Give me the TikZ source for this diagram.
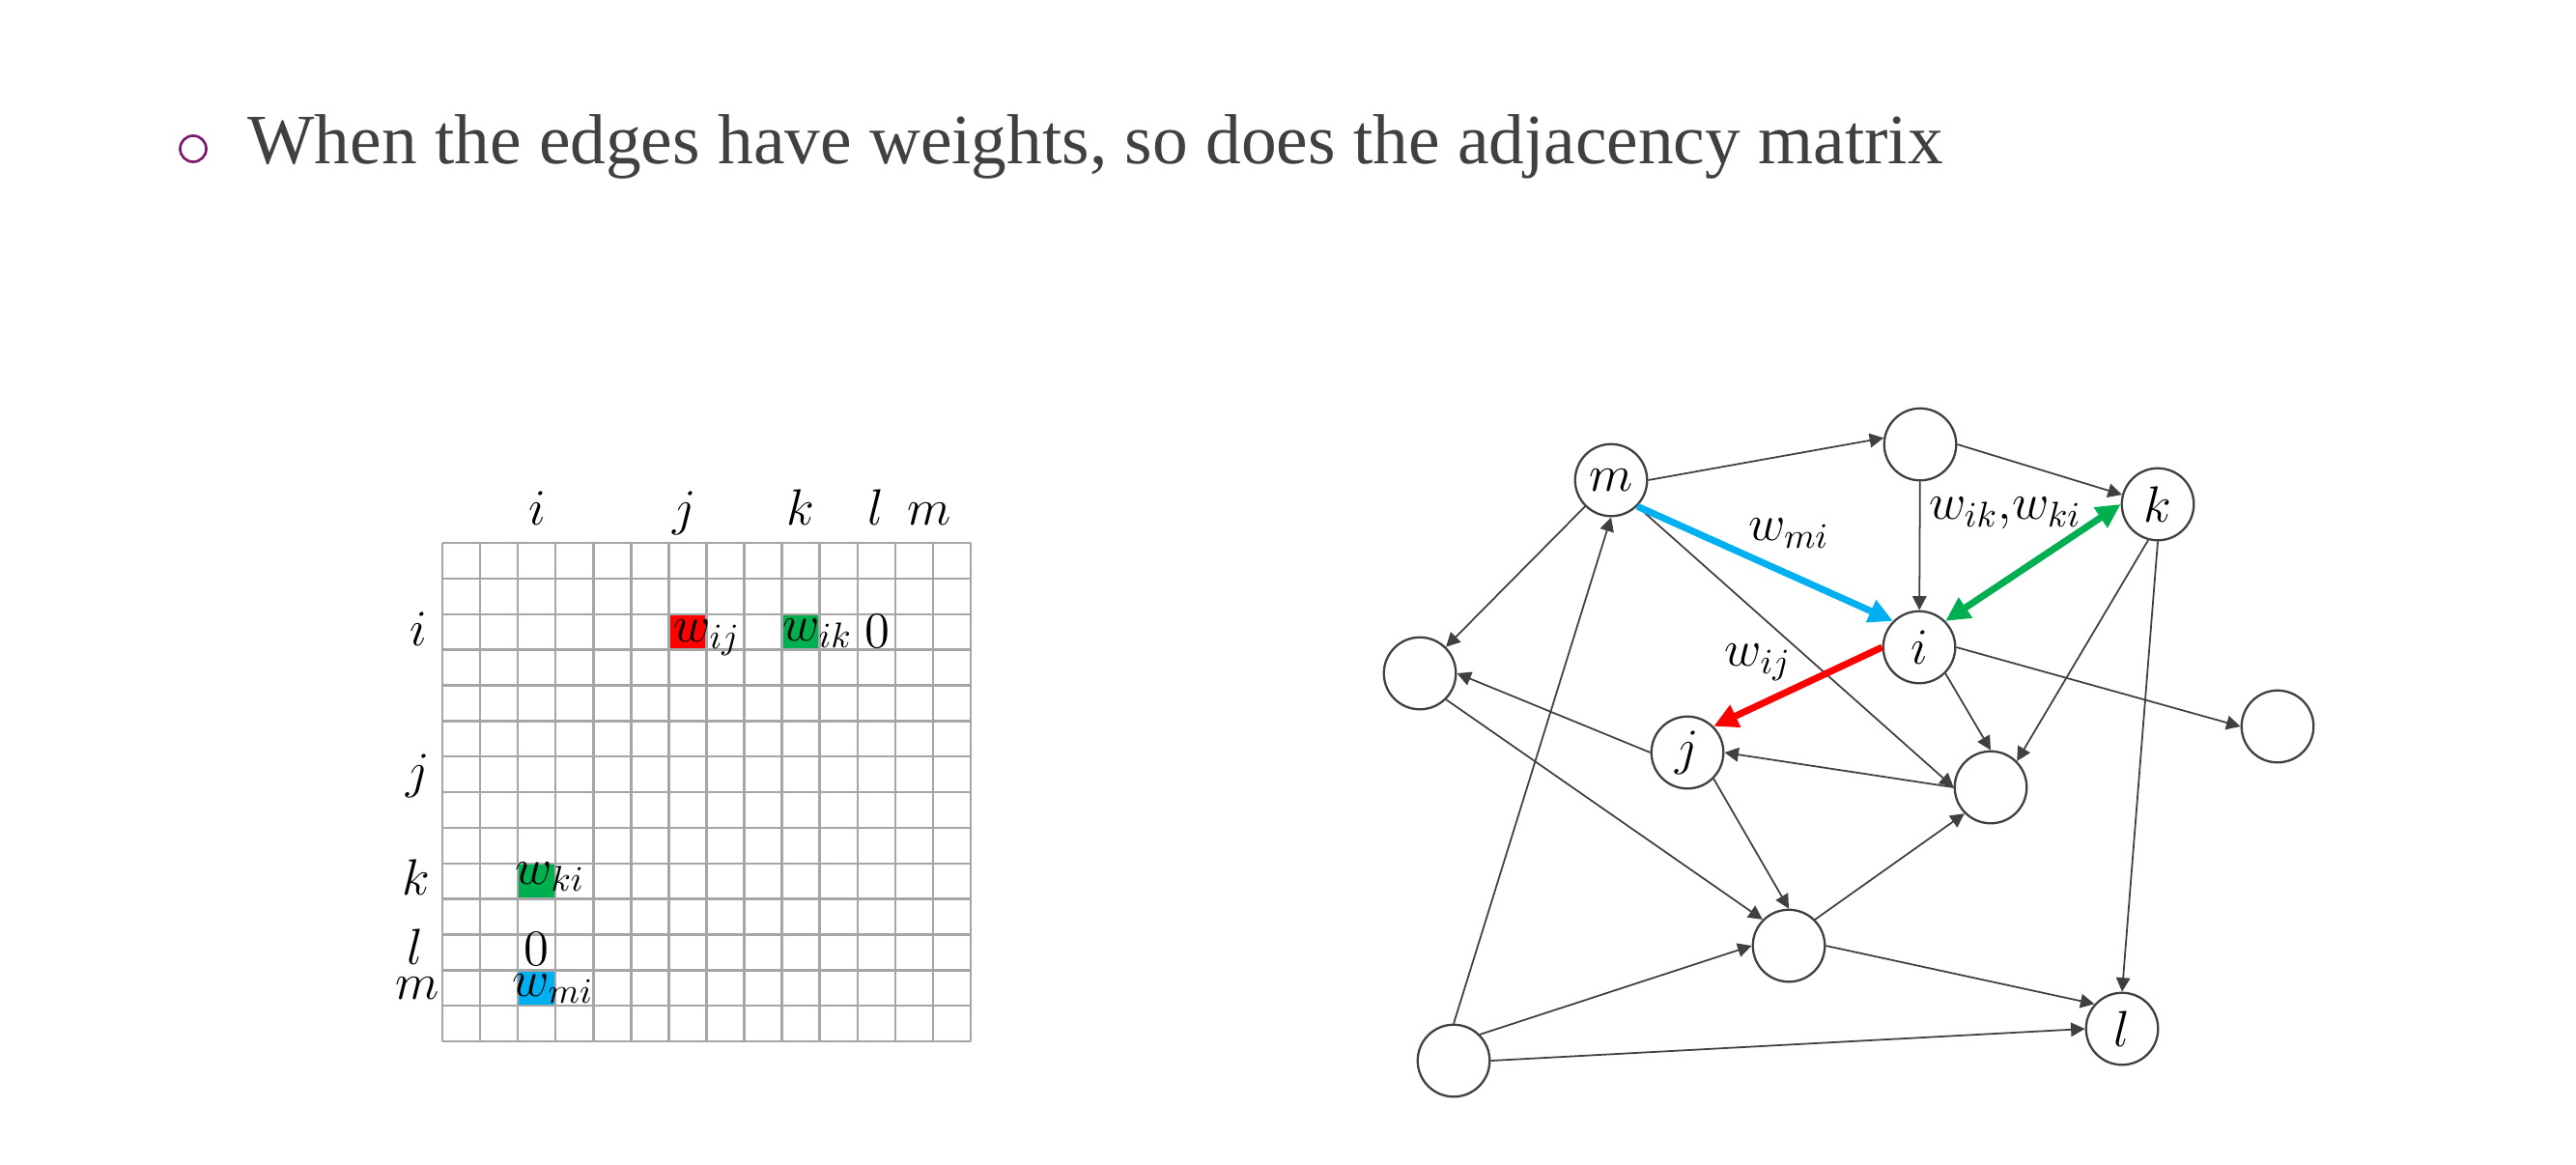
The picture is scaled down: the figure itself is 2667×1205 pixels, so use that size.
\RequirePackage{fix-cm}
\documentclass[tikz,border=0pt]{standalone}
\usepackage{fontspec}
\newfontfamily\titlefont{Liberation Serif}
\usetikzlibrary{arrows.meta}
\definecolor{edgegray}{HTML}{404040}
\definecolor{titlegray}{HTML}{404040}
\definecolor{gridgray}{HTML}{A6A6A6}
\definecolor{wred}{HTML}{FF0000}
\definecolor{wgreen}{HTML}{00B050}
\definecolor{wblue}{HTML}{00B0F0}
\definecolor{bulletpurple}{HTML}{7A186E}
\tikzset{
  vtx/.style={circle, draw=edgegray, line width=0.65pt, fill=white, minimum size=0.745cm, inner sep=0pt, font=\fontsize{15}{18}\selectfont},
  edg/.style={draw=edgegray, line width=0.5pt, -{Triangle[length=0.145cm,width=0.145cm]}},
  hot/.style={line width=2pt, -{Triangle[length=0.25cm,width=0.24cm]}},
  lbl/.style={font=\fontsize{15}{18}\selectfont, inner sep=0pt},
  gridline/.style={draw=gridgray, line width=0.7pt},
  celltxt/.style={font=\fontsize{15}{18}\selectfont, inner sep=0pt, anchor=base west},
  axlbl/.style={font=\fontsize{15}{18}\selectfont, inner sep=0pt, anchor=base},
}
\begin{document}
\begin{tikzpicture}[x=0.01cm,y=-0.01cm]
\useasboundingbox (0,0) rectangle (2667,1205);

% title
\node[circle, draw=bulletpurple, line width=0.75pt, minimum size=0.27cm, inner sep=0pt] (bullet) at (200,154) {};
\node[anchor=base west, inner sep=0pt, font=\titlefont\fontsize{20.85}{25}\selectfont, text=titlegray] (title) at (256,169.3) {When the edges have weights, so does the adjacency matrix};

% matrix cells
\fill[wred]   ({458+6*39.07},{562+2*36.86}) rectangle +(39.07,36.86);
\fill[wgreen] ({458+9*39.07},{562+2*36.86}) rectangle +(39.07,36.86);
\fill[wgreen] ({458+2*39.07},{562+9*36.86}) rectangle +(39.07,36.86);
\fill[wblue]  ({458+2*39.07},{562+12*36.86}) rectangle +(39.07,36.86);
\foreach \c in {0,...,14} \draw[gridline] ({458+\c*39.07},562) -- ({458+\c*39.07},1078);
\foreach \r in {0,...,14} \draw[gridline] (458,{562+\r*36.86}) -- (1005,{562+\r*36.86});

% column labels
\node[axlbl] (ci) at (556,543) {$i$};
\node[axlbl] (cj) at (709,543) {$j$};
\node[axlbl] (ck) at (829,543) {$k$};
\node[axlbl] (cl) at (907,543) {$l$};
\node[axlbl] (cm) at (962,543) {$m$};
% row labels
\node[axlbl] (ri) at (433,668) {$i$};
\node[axlbl] (rj) at (433,815) {$j$};
\node[axlbl] (rk) at (431,926) {$k$};
\node[axlbl] (rl) at (430,998) {$l$};
\node[axlbl] (rm) at (432,1034) {$m$};
% cell entries
\node[celltxt] (cwij) at (697,664) {$w_{ij}$};
\node[celltxt] (cwik) at (810,663) {$w_{ik}$};
\node[axlbl] (czero1) at (908,670) {$0$};
\node[celltxt] (cwki) at (533,915) {$w_{ki}$};
\node[axlbl] (czero2) at (555,999) {$0$};
\node[celltxt] (cwmi) at (530,1031) {$w_{mi}$};

% graph nodes
\node[vtx] (m)     at (1668,497) {$m$};
\node[vtx] (top)   at (1988,460) {};
\node[vtx] (k)     at (2234,522) {$k$};
\node[vtx] (i)     at (1987,670) {$i$};
\node[vtx] (left)  at (1470,697) {};
\node[vtx] (right) at (2358,752) {};
\node[vtx] (j)     at (1747,779) {$j$};
\node[vtx] (ctr)   at (2061,815) {};
\node[vtx] (bm)    at (1852,979) {};
\node[vtx] (l)     at (2197,1065) {$l$};
\node[vtx] (bl)    at (1505,1098) {};

% gray edges
\draw[edg] (m.east) -- (top.170);
\draw[edg] (top.east) -- (k.165);
\draw[edg] (top) -- (i);
\draw[edg] (m) -- (left);
\draw[edg] (m.-45) -- (ctr.west);
\draw[edg] (bl.north) -- (m.south);
\draw[edg] (left.-45) -- (bm.135);
\draw[edg] (j.west) -- (left.east);
\draw[edg] (ctr.west) -- (j.east);
\draw[edg] (i.-45) -- (ctr.north);
\draw[edg] (k.255) -- (ctr.45);
\draw[edg] (i.east) -- (right.west);
\draw[edg] (k.south) -- (l.north);
\draw[edg] (j.-45) -- (bm.north);
\draw[edg] (bm.45) -- (ctr.225);
\draw[edg] (bm.east) -- (l.138);
\draw[edg] (bl.45) -- (bm.west);
\draw[edg] (bl.east) -- (l.west);

% weighted edges
\draw[hot, draw=wblue, fill=wblue] (m.-45) -- (i.135);
\draw[hot, draw=wgreen, fill=wgreen, {Triangle[length=0.25cm,width=0.24cm]}-{Triangle[length=0.25cm,width=0.24cm]}] (i.45) -- (k.180);
\draw[hot, draw=wred, fill=wred] (i.180) -- (j.45);

% edge labels
\node[lbl] (wmi) at (1852,552) {$w_{mi}$};
\node[lbl] (wikki) at (2076,531) {$w_{ik}{,}w_{ki}$};
\node[lbl] (wij) at (1820,686) {$w_{ij}$};
\end{tikzpicture}
\end{document}
